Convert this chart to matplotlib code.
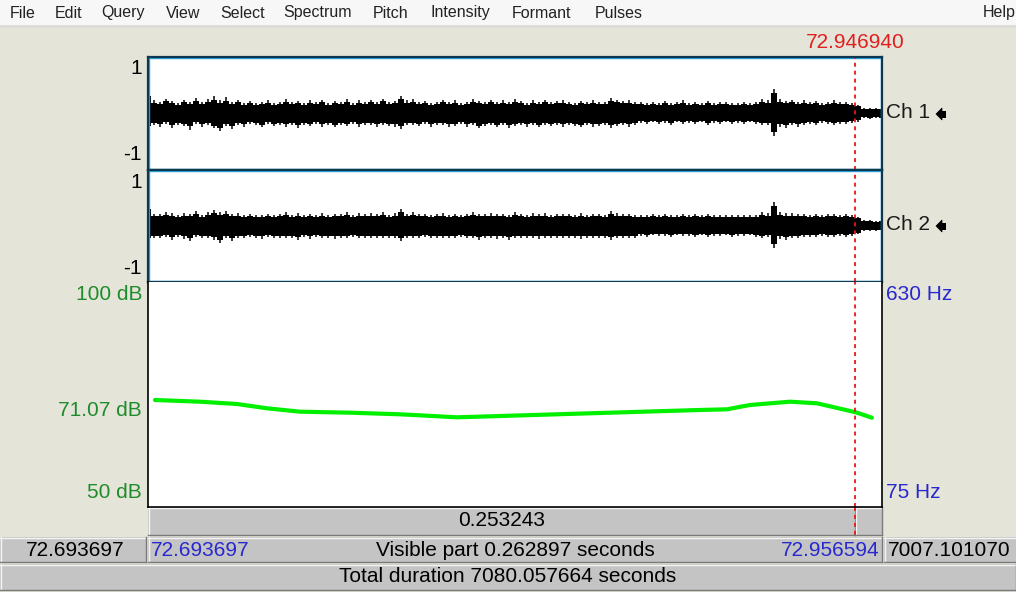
import numpy as np
import matplotlib
matplotlib.use("Agg")
import matplotlib.pyplot as plt
from matplotlib.patches import Rectangle, Polygon
import matplotlib.transforms as mtransforms

# ---------------- data ----------------
t_start = 72.693697
t_end = 72.956594
cursor_time = 72.946940
selection_text = "0.253243"
visible_text = "Visible part 0.262897 seconds"
total_text = "Total duration 7080.057664 seconds"
left_time_text = "72.693697"
right_time_text = "7007.101070"

menu_items = ["File", "Edit", "Query", "View", "Select", "Spectrum", "Pitch",
              "Intensity", "Formant", "Pulses"]
menu_x = [10, 55, 101, 166, 220, 283, 373, 430, 512, 595]

# waveform envelopes (hundredths of full scale)
ch1_upper = [36, 22, 19, 25, 21, 18, 23, 20, 26, 19, 24, 29, 22, 27, 20, 23, 18, 21, 17, 19,
             22, 18, 20, 24, 19, 21, 17, 22, 19, 23, 18, 21, 20, 24, 18, 22, 19, 23, 20, 25,
             19, 21, 30, 22, 24, 19, 21, 18, 20, 23, 19, 22, 18, 20, 24, 21, 19, 23, 20, 22,
             19, 24, 21, 18, 22, 20, 23, 19, 21, 22, 20, 18, 21, 19, 22, 20, 19, 26, 23, 21,
             22, 19, 19, 17, 20, 18, 21, 17, 19, 22, 18, 20, 17, 21, 18, 20, 19, 17, 18, 20,
             17, 19, 24, 22, 42, 24, 21, 23, 20, 22, 19, 21, 18, 20, 22, 19, 20, 18, 15, 10,
             9, 10, 9]
ch1_lower = [-26, -20, -22, -18, -24, -19, -21, -27, -18, -22, -20, -25, -30, -21, -26, -19, -22, -17, -20, -23,
             -18, -21, -19, -22, -20, -24, -19, -21, -18, -22, -20, -23, -19, -21, -18, -22, -20, -19, -22, -20,
             -21, -22, -26, -20, -19, -21, -18, -22, -20, -19, -22, -21, -18, -22, -20, -25, -21, -19, -23, -20,
             -24, -21, -19, -22, -20, -23, -19, -21, -20, -22, -19, -21, -23, -20, -22, -21, -19, -24, -21, -20,
             -22, -20, -16, -18, -15, -17, -16, -19, -15, -17, -16, -18, -15, -19, -16, -17, -15, -18, -16, -17,
             -15, -18, -20, -19, -38, -22, -24, -20, -22, -19, -17, -20, -16, -18, -19, -17, -18, -16, -14, -8,
             -9, -8, -9]
ch2_upper = [35, 21, 20, 24, 22, 18, 22, 21, 25, 19, 23, 28, 23, 26, 20, 22, 19, 21, 18, 19,
             21, 19, 20, 23, 19, 22, 18, 21, 19, 22, 19, 21, 20, 23, 19, 22, 20, 22, 20, 24,
             19, 22, 29, 21, 23, 20, 21, 19, 20, 22, 19, 21, 19, 21, 23, 21, 20, 22, 20, 21,
             19, 23, 21, 19, 22, 20, 22, 19, 21, 21, 20, 19, 22, 19, 21, 20, 19, 25, 22, 21,
             21, 19, 18, 18, 20, 19, 20, 18, 19, 21, 18, 20, 18, 20, 18, 19, 19, 18, 18, 19,
             18, 19, 23, 22, 41, 23, 22, 22, 21, 21, 19, 20, 19, 20, 21, 19, 20, 18, 16, 11,
             10, 9, 10]
ch2_lower = [-25, -21, -21, -19, -23, -19, -22, -26, -19, -21, -21, -24, -29, -21, -25, -20, -21, -18, -20, -22,
             -19, -21, -20, -21, -20, -23, -19, -22, -19, -21, -20, -22, -20, -21, -19, -21, -20, -20, -21, -20,
             -21, -21, -25, -20, -20, -21, -19, -21, -20, -20, -21, -21, -19, -21, -20, -24, -21, -20, -22, -20,
             -23, -21, -20, -21, -20, -22, -20, -21, -20, -21, -20, -21, -22, -20, -21, -21, -20, -23, -21, -20,
             -21, -20, -17, -18, -16, -17, -17, -18, -16, -17, -17, -18, -16, -18, -17, -17, -16, -18, -17, -17,
             -16, -18, -20, -19, -37, -22, -23, -20, -21, -19, -18, -19, -17, -18, -19, -17, -18, -17, -14, -9,
             -9, -9, -8]

# intensity contour
int_times = [72.69620, 72.71232, 72.72557, 72.73632, 72.74814, 72.76605, 72.78396, 72.79578,
             72.80437, 72.81977, 72.85559, 72.89141, 72.90108, 72.90932, 72.92365, 72.93332,
             72.94725, 72.95298]
int_db = [73.78, 73.40, 72.89, 71.93, 71.18, 70.96, 70.60, 70.22,
          69.93, 70.22, 70.89, 71.56, 71.71, 72.67, 73.40, 73.04,
          71.04, 69.84]
db_min, db_max = 50, 100
db_mid_label = "71.07 dB"
hz_min_label, hz_max_label = "75 Hz", "630 Hz"

# ---------------- figure ----------------
W, H = 1016, 592
FONT = "Liberation Sans"
plt.rcParams["font.family"] = [FONT, "DejaVu Sans"]
fig = plt.figure(figsize=(W / 100, H / 100), dpi=100)
BG = "#E4E4D8"
fig.patch.set_facecolor(BG)
FS = 15

bg = fig.add_axes([0, 0, 1, 1], zorder=0)
bg.set_xlim(0, W)
bg.set_ylim(H, 0)
bg.axis("off")

def px_axes(l, t, r, b, z=1):
    return fig.add_axes([l / W, 1 - b / H, (r - l) / W, (b - t) / H], zorder=z)

# menu bar
bg.add_patch(Rectangle((0, 0), W, 25, facecolor="#F7F7F7", edgecolor="none"))
bg.plot([0, W], [25.5, 25.5], color="#D8D8D8", lw=1)
for name, x in zip(menu_items, menu_x):
    bg.text(x, 13, name, fontsize=11.5, ha="left", va="center", color="#222222")
bg.text(983, 13, "Help", fontsize=11.5, ha="left", va="center", color="#222222")

L, R = 148, 882
GRAY = "#C4C4C4"

def bevel(x0, y0, x1, y1):
    bg.add_patch(Rectangle((x0, y0), x1 - x0, y1 - y0, facecolor=GRAY, edgecolor="none"))
    bg.plot([x0, x1], [y0 + 0.5, y0 + 0.5], color="#F4F4F4", lw=1)
    bg.plot([x0 + 0.5, x0 + 0.5], [y0, y1], color="#F4F4F4", lw=1)
    bg.plot([x0, x1], [y1 - 0.5, y1 - 0.5], color="#7A7A7A", lw=1)
    bg.plot([x1 - 0.5, x1 - 0.5], [y0, y1], color="#7A7A7A", lw=1)

# selection bar under the panels
bevel(L, 507, 855, 535)
bevel(855, 507, R, 535)
bg.text((L + 855) / 2, 521, selection_text, fontsize=FS, ha="center", va="center")

# time row
bevel(0, 537, 146, 562)
bevel(L, 537, R, 562)
bevel(884, 537, W + 5, 562)
bg.text(75, 550, left_time_text, fontsize=FS, ha="center", va="center")
bg.text(151, 550, left_time_text, fontsize=FS, ha="left", va="center", color="#2828D0")
bg.text(515, 550, visible_text, fontsize=FS, ha="center", va="center")
bg.text(879, 550, "72.956594", fontsize=FS, ha="right", va="center", color="#2828D0")
bg.text(888, 550, right_time_text, fontsize=FS, ha="left", va="center", clip_on=True)

# total row
bevel(0, 564, W, 590)
bg.text(W / 2, 577, total_text, fontsize=FS, ha="center", va="center")

# ---------------- waveform panels ----------------
n = len(ch1_upper)
wave_t = np.linspace(t_start, t_end, n)

def wave_panel(top, bot, up, lo):
    ax = px_axes(L, top, R, bot)
    ax.set_xlim(t_start, t_end)
    ax.set_ylim(-1, 1)
    up = np.array(up) / 100
    lo = np.array(lo) / 100
    ax.fill_between(wave_t, lo * 0.85, up * 0.85, step="mid", color="black", lw=0)
    ax.vlines(wave_t, lo * 1.05, up * 1.05, color="black", lw=1.1)
    ax.axvline(cursor_time, color="#E81818", lw=1.3, ls=(0, (2.2, 2.2)))
    ax.set_xticks([])
    ax.set_yticks([])
    for s in ax.spines.values():
        s.set_color("#0E3850")
        s.set_linewidth(1.6)
    ax.add_patch(Rectangle((0.0015, 0.008), 0.997, 0.984, transform=ax.transAxes,
                           facecolor="none", edgecolor="#2AA4DC", lw=1))
    return ax

ax1 = wave_panel(57, 170, ch1_upper, ch1_lower)
ax2 = wave_panel(170, 282, ch2_upper, ch2_lower)

for y, s in [(69, "1"), (155, "-1"), (182, "1"), (268, "-1")]:
    bg.text(142, y, s, fontsize=FS, ha="right", va="center")

for y, s in [(113, "Ch 1"), (225, "Ch 2")]:
    bg.text(886, y, s, fontsize=FS, ha="left", va="center", color="#1a1a1a")

for yc in (114, 226):
    bg.add_patch(Polygon([[936, yc], [942, yc - 6], [942, yc + 6]], closed=True,
                         facecolor="black", edgecolor="black", lw=0.5))
    bg.add_patch(Rectangle((942, yc - 3.5), 3.5, 7, facecolor="black", edgecolor="none"))

# ---------------- intensity panel ----------------
ax3 = px_axes(L, 282, R, 507)
ax3.set_xlim(t_start, t_end)
ax3.set_ylim(db_min, db_max)
ax3.plot(int_times, int_db, color="#00F000", lw=3, solid_capstyle="round",
         solid_joinstyle="round")
ax3.axvline(cursor_time, color="#E81818", lw=1.3, ls=(0, (2.2, 2.2)))
ax3.set_xticks([])
ax3.set_yticks([])
for k, s in ax3.spines.items():
    s.set_color("black")
    s.set_linewidth(1.2)
ax3.spines["top"].set_visible(False)

GREEN = "#1E8C2A"
BLUE = "#2828D0"
bg.text(142, 294, f"{db_max} dB", fontsize=FS, ha="right", va="center", color=GREEN)
bg.text(142, 411, db_mid_label, fontsize=FS, ha="right", va="center", color=GREEN)
bg.text(142, 493, f"{db_min} dB", fontsize=FS, ha="right", va="center", color=GREEN)
bg.text(886, 294, hz_max_label, fontsize=FS, ha="left", va="center", color=BLUE)
bg.text(886, 493, hz_min_label, fontsize=FS, ha="left", va="center", color=BLUE)

# cursor extension through the selection bar and its label
tr = mtransforms.blended_transform_factory(ax3.transData, bg.transData)
bg.plot([cursor_time, cursor_time], [507, 535], transform=tr, color="#E81818",
        lw=1.3, ls=(0, (2.2, 2.2)), zorder=5)
bg.text(cursor_time, 43, f"{cursor_time:.6f}", transform=tr, fontsize=FS,
        ha="center", va="center", color="#E02020")

fig.savefig("out.png", dpi=100, facecolor=BG)
